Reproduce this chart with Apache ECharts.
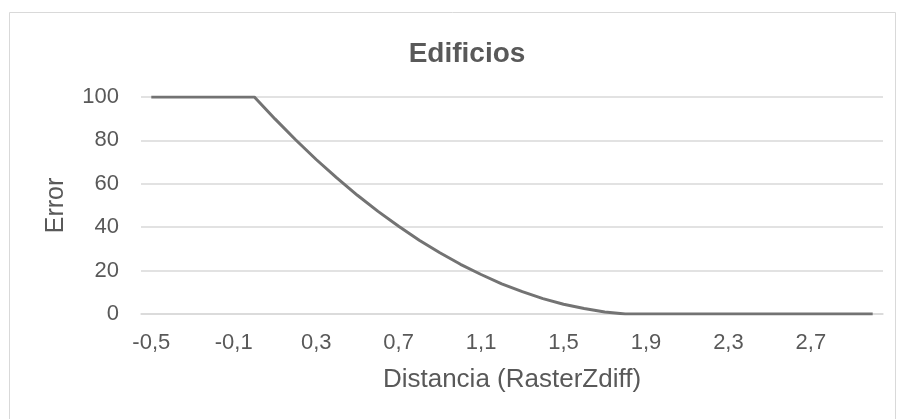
<!DOCTYPE html>
<html>
<head>
<meta charset="utf-8">
<script src="https://cdn.jsdelivr.net/npm/echarts@6/dist/echarts.min.js"></script>
<style>
  html, body { margin: 0; padding: 0; background: #ffffff; }
  #chart { width: 903px; height: 419px; }
</style>
</head>
<body>
<div id="chart"></div>
<script>
// Distance categories (step 0,1) shown with a decimal comma
const categories = [
  '-0,5', '-0,4', '-0,3', '-0,2', '-0,1', '0,0',
  '0,1', '0,2', '0,3', '0,4', '0,5', '0,6', '0,7', '0,8', '0,9', '1,0',
  '1,1', '1,2', '1,3', '1,4', '1,5', '1,6', '1,7', '1,8',
  '1,9', '2,0', '2,1', '2,2', '2,3', '2,4', '2,5', '2,6', '2,7', '2,8', '2,9', '3,0'
];

// Error for each distance
const errorValues = [
  100, 100, 100, 100, 100, 100,
  89.9, 80.3, 71.2, 62.7, 54.7, 47.3, 40.4, 34.0, 28.2, 22.9,
  18.2, 13.9, 10.3, 7.1, 4.5, 2.5, 0.9, 0,
  0, 0, 0, 0, 0, 0, 0, 0, 0, 0, 0, 0
];

const yTicks = [0, 20, 40, 60, 80, 100];

const textColor = '#595959';
const gridColor = '#d9d9d9';
const font = '"Liberation Sans", Arial, sans-serif';

const chart = echarts.init(document.getElementById('chart'), null, { renderer: 'canvas' });

chart.setOption({
  animation: false,
  backgroundColor: '#ffffff',
  title: {
    text: 'Edificios',
    left: 462,
    top: 35,
    textAlign: 'center',
    textStyle: { fontFamily: font, fontSize: 28, fontWeight: 'bold', color: textColor }
  },
  graphic: [{
    type: 'rect',
    shape: { x: 9.5, y: 12.5, width: 886, height: 420 },
    style: { fill: 'none', stroke: gridColor, lineWidth: 1 },
    silent: true
  }],
  grid: { left: 141, right: 20, top: 97, bottom: 105 },
  xAxis: {
    type: 'category',
    data: categories,
    boundaryGap: true,
    name: 'Distancia (RasterZdiff)',
    nameLocation: 'middle',
    nameGap: 53,
    nameTextStyle: { fontFamily: font, fontSize: 26, color: textColor },
    axisLine: { show: true, lineStyle: { color: gridColor, width: 1.5 } },
    axisTick: { show: false },
    axisLabel: { interval: 3, margin: 18, fontFamily: font, fontSize: 22, color: textColor },
    splitLine: { show: false }
  },
  yAxis: {
    type: 'value',
    min: yTicks[0],
    max: yTicks[yTicks.length - 1],
    interval: yTicks[1] - yTicks[0],
    name: 'Error',
    nameLocation: 'middle',
    nameRotate: 90,
    nameGap: 72,
    nameTextStyle: { fontFamily: font, fontSize: 25, color: textColor },
    axisLine: { show: false },
    axisTick: { show: false },
    axisLabel: { margin: 22, fontFamily: font, fontSize: 22, color: textColor },
    splitLine: { lineStyle: { color: gridColor, width: 1.5 } }
  },
  series: [{
    type: 'line',
    data: errorValues,
    symbol: 'none',
    smooth: false,
    lineStyle: { color: '#737373', width: 3, cap: 'butt', join: 'round' }
  }]
});
</script>
</body>
</html>
